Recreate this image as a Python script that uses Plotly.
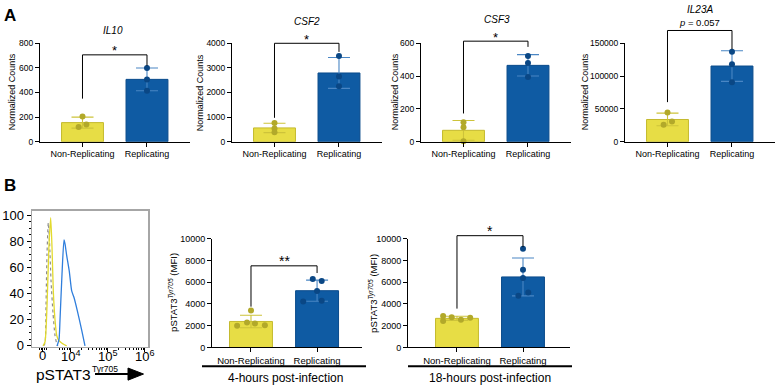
import numpy as np
import plotly.graph_objects as go

W, H = 776, 392

# ---------------- Data ----------------
groups = ["Non-Replicating", "Replicating"]

il10_nonrep = [205, 120, 140]
il10_rep = [600, 505, 415]
csf2_nonrep = [760, 540, 380]
csf2_rep = [3480, 2650, 2250]
csf3_nonrep = [118, 88, 2]
csf3_rep = [522, 480, 394]
il23a_nonrep = [44600, 30900, 26000]
il23a_rep = [137200, 118100, 90700]

mfi_4h_nonrep = [3400, 2300, 2200, 2000, 2050]
mfi_4h_rep = [6280, 6100, 5180, 4300, 4220]
mfi_18h_nonrep = [2900, 2780, 2720, 2430, 2550]
mfi_18h_rep = [9070, 7140, 6390, 5050, 4760]

gene_titles = ["IL10", "CSF2", "CSF3", "IL23A"]
sig_labels = ["*", "*", "*", "<i>p</i> = 0.057", "**", "*"]
time_labels = ["4-hours post-infection", "18-hours post-infection"]

# flow histogram: x in display decades (biexponential scale), y in % of max
hist_iso_x = [3.265, 3.305, 3.332, 3.359, 3.395, 3.427, 3.468, 3.522, 3.576, 3.630, 3.657]
hist_iso_y = [0, 2, 30, 70, 94, 80, 50, 25, 8, 1, 0]
hist_nonrep_x = [3.251, 3.305, 3.359, 3.41, 3.459, 3.495, 3.530, 3.576, 3.622, 3.684, 3.765, 3.892]
hist_nonrep_y = [0, 3, 30, 75, 98, 75, 42, 20, 8, 4, 2, 0]
hist_rep_x = [3.630, 3.684, 3.711, 3.765, 3.819, 3.846, 3.892, 3.962, 4.027, 4.089, 4.178, 4.297, 4.386]
hist_rep_y = [0, 5, 20, 55, 81, 78, 69, 57, 42, 37, 27, 12, 0]
hist_tick_vals = [3.243, 4, 5, 6]
hist_tick_text = ["0", "10<sup>4</sup>", "10<sup>5</sup>", "10<sup>6</sup>"]

# point jitter (category units)
jit_il10 = ([0, -0.06, 0.06], [0, 0, 0])
jit_csf2 = ([0, 0, 0], [0, 0, 0])
jit_csf3 = ([0, 0, 0], [0, 0, 0])
jit_il23a = ([0, 0.07, -0.06], [0, 0, 0])
jit_4h = ([0, -0.06, 0.06, -0.21, 0.21], [-0.065, 0.07, 0, 0.07, -0.21])
jit_18h = ([-0.21, -0.08, 0.2, -0.21, 0.06], [0, 0, 0, 0.08, -0.07])

# ---------------- Style ----------------
FONT = "Arial, Liberation Sans, Helvetica, sans-serif"
YEL_FILL, YEL_LINE, YEL_PT, YEL_ERR = "#E7DD45", "#C4BA2E", "#B2A92A", "#CDC33A"
BLU_FILL, BLU_LINE, BLU_PT, BLU_ERR = "#0F5BA3", "#0B4C8C", "#0A4785", "#4A86C4"


def X(px):
    return px / W


def Y(py):
    return 1 - py / H


fig = go.Figure()
shapes = []
annotations = []
layout_axes = {}


def to_px(dom_px, rng, v):
    return dom_px[0] + (v - rng[0]) / (rng[1] - rng[0]) * (dom_px[1] - dom_px[0])


def bar_panel(idx, xpx, ypx, xrng, yrng, dtick, nonrep, rep, jit, tickfont, labfont,
              ytitle, ytitle_pos, bracket, sig, sig_font, sig_dy):
    xa = "x" if idx == 1 else f"x{idx}"
    ya = "y" if idx == 1 else f"y{idx}"
    for i, (vals, fill, line, pt, err, jj) in enumerate([
        (nonrep, YEL_FILL, YEL_LINE, YEL_PT, YEL_ERR, jit[0]),
        (rep, BLU_FILL, BLU_LINE, BLU_PT, BLU_ERR, jit[1]),
    ]):
        m = float(np.mean(vals))
        sd = float(np.std(vals, ddof=1))
        fig.add_trace(go.Bar(x=[i], y=[m], width=0.65, xaxis=xa, yaxis=ya,
                             marker=dict(color=fill, line=dict(color=line, width=1))))
        fig.add_trace(go.Scatter(x=[i], y=[m], mode="markers", xaxis=xa, yaxis=ya,
                                 marker=dict(size=1, color="rgba(0,0,0,0)"),
                                 error_y=dict(type="data", array=[sd], color=err,
                                              thickness=1.1, width=11),
                                 cliponaxis=False))
        fig.add_trace(go.Scatter(x=list(np.array(jj) + i), y=vals, mode="markers",
                                 xaxis=xa, yaxis=ya, cliponaxis=False,
                                 marker=dict(size=6, color=pt)))
    xdom = [X(xpx[0]), X(xpx[1])]
    ydom = [Y(ypx[0]), Y(ypx[1])]
    layout_axes["xaxis" if idx == 1 else f"xaxis{idx}"] = dict(
        domain=xdom, range=xrng, anchor=ya, showline=True, linecolor="black",
        linewidth=1, ticks="outside", ticklen=4, tickcolor="black",
        tickvals=[0, 1], ticktext=groups, showgrid=False, zeroline=False,
        tickfont=dict(size=labfont, color="black"), fixedrange=True)
    layout_axes["yaxis" if idx == 1 else f"yaxis{idx}"] = dict(
        domain=ydom, range=yrng, anchor=xa, showline=True, linecolor="black",
        linewidth=1, ticks="outside", ticklen=4, tickcolor="black", dtick=dtick,
        tickformat="d", showgrid=False, zeroline=False,
        tickfont=dict(size=tickfont, color="black"), fixedrange=True)
    annotations.append(dict(x=X(ytitle_pos[0]), y=Y(ytitle_pos[1]), xref="paper",
                            yref="paper", text=ytitle, textangle=-90, showarrow=False,
                            font=dict(size=labfont, color="black"),
                            xanchor="center", yanchor="middle"))
    # significance bracket
    top, lb, rb = bracket
    x0 = X(to_px(xpx, xrng, 0))
    x1 = X(to_px(xpx, xrng, 1))
    ypx_rng = (ypx[0], ypx[1])
    yt = Y(to_px(ypx_rng, yrng, top))
    yl = Y(to_px(ypx_rng, yrng, lb))
    yr = Y(to_px(ypx_rng, yrng, rb))
    path = f"M{x0},{yl} L{x0},{yt} L{x1},{yt} L{x1},{yr}"
    shapes.append(dict(type="path", path=path, xref="paper", yref="paper",
                       line=dict(color="black", width=1)))
    annotations.append(dict(x=(x0 + x1) / 2, y=yt + sig_dy / H, xref="paper",
                            yref="paper", text=sig, showarrow=False,
                            font=dict(size=sig_font, color="black"),
                            xanchor="center", yanchor="middle"))


xr_A = [-0.659, 1.667]
ydA = (141, 39.5)
ytA = "Normalized Counts"

bar_panel(1, (40, 190), ydA, xr_A, [0, 800], 200, il10_nonrep, il10_rep, jit_il10,
          8.5, 9, ytA, (12, 90), (706, 350, 618), sig_labels[0], 13, 4)
bar_panel(2, (232, 382), ydA, xr_A, [0, 4000], 1000, csf2_nonrep, csf2_rep, jit_csf2,
          8.5, 9, ytA, (200, 90), (4000, 970, 3650), sig_labels[1], 13, 4)
bar_panel(3, (421, 571), ydA, xr_A, [0, 600], 200, csf3_nonrep, csf3_rep, jit_csf3,
          8.5, 9, ytA, (395, 90), (613, 172, 578), sig_labels[2], 13, 4)
bar_panel(4, (625, 775), ydA, xr_A, [0, 150000], 50000, il23a_nonrep, il23a_rep, jit_il23a,
          8.5, 9, ytA, (585, 90), (169500, 60300, 141000), sig_labels[3], 9.5, 8.7)

ytB = "pSTAT3<sup><i>Tyr705</i></sup> (MFI)"
bar_panel(6, (212, 362), (353.3, 241), [-0.59, 1.68], [0, 10000], 2000,
          mfi_4h_nonrep, mfi_4h_rep, jit_4h, 9, 9.5, ytB, (173, 297),
          (7500, 3750, 6840), sig_labels[4], 14, 5)
bar_panel(7, (408, 570), (353.3, 241), [-0.742, 1.712], [0, 10000], 2000,
          mfi_18h_nonrep, mfi_18h_rep, jit_18h, 9, 9.5, ytB, (373, 298),
          (10270, 3570, 9220), sig_labels[5], 14, 5)

# gene titles
for t, (px, py) in zip(gene_titles, [(113, 26.7), (306.7, 16.7), (496.7, 15), (700, 5)]):
    annotations.append(dict(x=X(px), y=Y(py), xref="paper", yref="paper",
                            text=f"<i>{t}</i>", showarrow=False,
                            font=dict(size=10, color="black"),
                            xanchor="center", yanchor="middle"))

# panel letters
for t, (px, py) in zip(["A", "B"], [(2, 11), (2, 186)]):
    annotations.append(dict(x=X(px), y=Y(py), xref="paper", yref="paper",
                            text=f"<b>{t}</b>", showarrow=False,
                            font=dict(size=17, color="black"),
                            xanchor="left", yanchor="middle"))

# time group labels and underlines
for t, (x0, x1, cx) in zip(time_labels, [(202, 366, 285), (408, 572, 490)]):
    shapes.append(dict(type="line", x0=X(x0), x1=X(x1), y0=Y(372.7), y1=Y(372.7),
                       xref="paper", yref="paper", line=dict(color="black", width=2)))
    annotations.append(dict(x=X(cx), y=Y(385), xref="paper", yref="paper", text=t,
                            showarrow=False, font=dict(size=12, color="black"),
                            xanchor="center", yanchor="middle"))

# ---------------- Histogram ----------------
fig.add_trace(go.Scatter(x=hist_iso_x, y=hist_iso_y, mode="lines", xaxis="x5", yaxis="y5",
                         line=dict(color="#8c8c8c", width=1.2, dash="dot",
                                   shape="spline", smoothing=0.6)))
fig.add_trace(go.Scatter(x=hist_nonrep_x, y=hist_nonrep_y, mode="lines", xaxis="x5",
                         yaxis="y5", line=dict(color="#E2DA2E", width=1.3,
                                               shape="spline", smoothing=0.6)))
fig.add_trace(go.Scatter(x=hist_rep_x, y=hist_rep_y, mode="lines", xaxis="x5", yaxis="y5",
                         line=dict(color="#2F7EDC", width=1.3,
                                   shape="spline", smoothing=0.6)))

minor_x = [3.15, 3.2, 3.29, 3.34]
for d in (4, 5):
    for k in range(2, 10):
        minor_x.append(d + np.log10(k))
for k in range(5, 10):
    minor_x.append(3 + np.log10(k))

layout_axes["xaxis5"] = dict(
    domain=[X(32), X(148)], range=[2.954, 6.089], anchor="y5", showline=True,
    mirror=True, linecolor="#a6a6a6", linewidth=1.5, ticks="outside", ticklen=4,
    tickcolor="black", tickvals=hist_tick_vals, showticklabels=False,
    showgrid=False, zeroline=False,
    minor=dict(tickvals=minor_x, ticks="outside", ticklen=2, tickcolor="black"),
    fixedrange=True)
layout_axes["yaxis5"] = dict(
    domain=[Y(352.5), Y(212)], range=[-0.6, 103.5], anchor="x5", showline=True,
    mirror=True, linecolor="#a6a6a6", linewidth=1.5, ticks="outside", ticklen=4,
    tickcolor="black", tickvals=[0, 20, 40, 60, 80, 100],
    tickfont=dict(size=13, color="black"), showgrid=False, zeroline=False,
    minor=dict(dtick=5, ticks="outside", ticklen=2, tickcolor="black"),
    fixedrange=True)

for v, t in zip(hist_tick_vals, hist_tick_text):
    annotations.append(dict(x=v, y=Y(362), xref="x5", yref="paper", text=t,
                            showarrow=False, font=dict(size=13, color="black"),
                            xanchor="center", yanchor="middle"))

annotations.append(dict(x=X(34), y=Y(381), xref="paper", yref="paper", text="pSTAT3",
                        showarrow=False, font=dict(size=15.5, color="black"),
                        xanchor="left", yanchor="middle"))
annotations.append(dict(x=X(90), y=Y(375.5), xref="paper", yref="paper", text="Tyr705",
                        showarrow=False, font=dict(size=8.5, color="black"),
                        xanchor="left", yanchor="middle"))
shapes.append(dict(type="line", x0=X(95), x1=X(132), y0=Y(380.7), y1=Y(380.7),
                   xref="paper", yref="paper", line=dict(color="black", width=2)))
shapes.append(dict(type="path",
                   path=f"M{X(128)},{Y(374.5)} L{X(143.5)},{Y(380.7)} L{X(128)},{Y(387)} Z",
                   xref="paper", yref="paper", fillcolor="black",
                   line=dict(color="black", width=1)))

fig.update_layout(
    width=W, height=H, margin=dict(l=0, r=0, t=0, b=0),
    paper_bgcolor="white", plot_bgcolor="white", showlegend=False,
    font=dict(family=FONT, color="black"), bargap=0, hovermode=False,
    shapes=shapes, annotations=annotations, **layout_axes)

fig.write_html(
    "out.html",
    config={"displayModeBar": False, "staticPlot": True},
    post_script="document.body.style.margin='0';document.body.style.padding='0';"
                "document.documentElement.style.overflow='hidden';",
)
